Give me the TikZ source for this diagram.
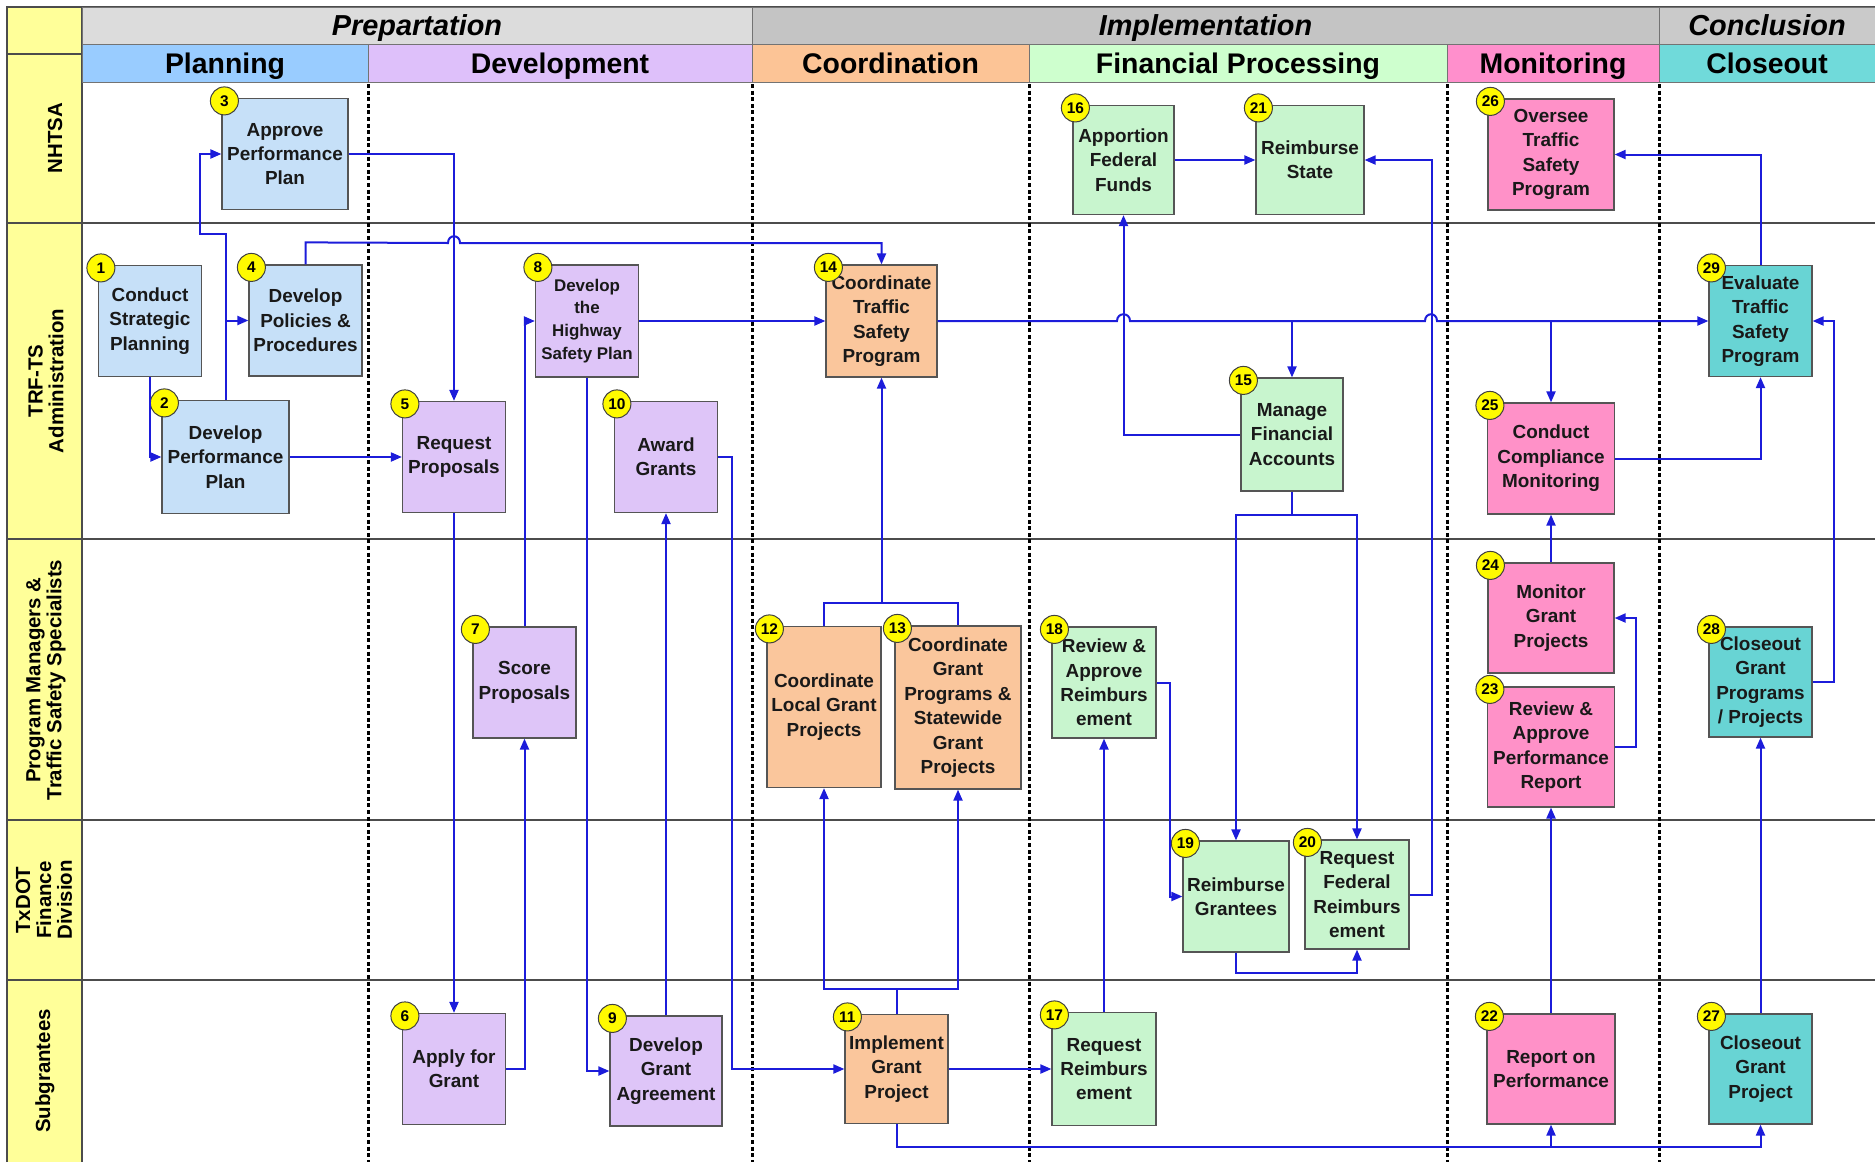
\documentclass[tikz,border=0pt]{standalone}
\usepackage{fontspec}
\setmainfont{Liberation Sans}
\usetikzlibrary{arrows.meta,calc}

\definecolor{flowblue}{RGB}{28,28,218}
\definecolor{boxline}{RGB}{85,85,85}
\definecolor{laneyellow}{RGB}{255,255,153}
\definecolor{badgeyellow}{RGB}{255,250,0}
\definecolor{planfill}{RGB}{198,224,248}
\definecolor{planhead}{RGB}{153,204,255}
\definecolor{devfill}{RGB}{222,197,248}
\definecolor{devhead}{RGB}{222,192,250}
\definecolor{coordfill}{RGB}{250,198,156}
\definecolor{coordhead}{RGB}{252,196,150}
\definecolor{finfill}{RGB}{200,245,206}
\definecolor{finhead}{RGB}{206,255,206}
\definecolor{monfill}{RGB}{255,145,200}
\definecolor{monhead}{RGB}{255,143,204}
\definecolor{closefill}{RGB}{104,212,212}
\definecolor{closehead}{RGB}{112,218,218}
\definecolor{prepgray}{RGB}{220,220,220}
\definecolor{implgray}{RGB}{196,196,196}
\definecolor{conclgray}{RGB}{202,202,202}

\newcommand\boxfont{\fontsize{19}{24.5}\selectfont\bfseries}
\newcommand\smallboxfont{\fontsize{17}{23}\selectfont\bfseries}

\tikzset{
	task/.style={draw=boxline, line width=1.2bp, minimum width=103bp, minimum height=111bp,
		inner sep=1bp, align=center, font=\boxfont, text=black!90},
	plan/.style={task, fill=planfill},
	dev/.style={task, fill=devfill},
	coord/.style={task, fill=coordfill},
	fin/.style={task, fill=finfill},
	mon/.style={task, fill=monfill},
	close/.style={task, fill=closefill},
	badge/.style={circle, draw=black!75, line width=1bp, fill=badgeyellow, minimum size=28bp,
		inner sep=0pt, font=\fontsize{15.5}{15.5}\selectfont\bfseries},
	flow/.style={draw=flowblue, line width=2bp, -{Triangle[length=11bp,width=9bp]}},
	link/.style={draw=flowblue, line width=2bp},
	laneline/.style={draw=black!70, line width=1.8bp},
	phasesep/.style={draw=black, line width=3bp, dash pattern=on 4bp off 2.6bp},
	lanelabel/.style={rotate=90, align=center, font=\fontsize{20.5}{21}\selectfont\bfseries}
}

\begin{document}
\begin{tikzpicture}[x=1bp,y=-1bp]
\useasboundingbox (0,0) rectangle (1875,1162);

% lane labels column
\fill[laneyellow] (7,7) rectangle (82,1162);
\draw[black!70, line width=1.5bp] (7,1162) -- (7,7) -- (1875,7);
\draw[black!70, line width=1.5bp] (82,7) -- (82,1162);
\draw[black!70, line width=1.5bp] (7,54) -- (82,54);

% header rows
\foreach \a/\b/\c/\t in {82/752/prepgray/Prepartation,752/1659/implgray/Implementation,1659/1875/conclgray/Conclusion} {
	\draw[black!55, line width=1bp, fill=\c] (\a,7) rectangle (\b,44);
	\node[anchor=base, font=\fontsize{29}{30}\selectfont\bfseries\itshape] at ({(\a+\b)/2},35) {\t};
}
\foreach \a/\b/\c/\t in {82/368/planhead/Planning,368/752/devhead/Development,752/1029/coordhead/Coordination,
	1029/1447/finhead/Financial Processing,1447/1659/monhead/Monitoring,1659/1875/closehead/Closeout} {
	\draw[black!55, line width=1bp, fill=\c] (\a,44) rectangle (\b,82);
	\node[anchor=base, font=\fontsize{28.5}{30}\selectfont\bfseries] at ({(\a+\b)/2},73) {\t};
}

\foreach \y in {223,539,820,980} {
	\draw[laneline] (7,\y) -- (1875,\y);
}
\foreach \x in {368,752,1029,1447,1659} {
	\draw[phasesep] (\x,84) -- (\x,1162);
}

\node[lanelabel] (lnhtsa) at (55,138) {NHTSA};
\node[lanelabel] (ltrf) at (46,381) {TRF-TS\\Administration};
\node[lanelabel] (lpm) at (46,680) {Program Managers \&\\Traffic Safety Specialists};
\node[lanelabel] (ltx) at (44,900) {TxDOT\\Finance\\Division};
\node[lanelabel] (lsub) at (45,1071) {Subgrantees};

% tasks
\node[plan] (b1) at (150,321) {Conduct\\Strategic\\Planning};
\node[plan, minimum width=127bp, minimum height=113bp] (b2) at (225.5,457) {Develop\\Performance\\Plan};
\node[plan, minimum width=126bp] (b3) at (285,154) {Approve\\Performance\\Plan};
\node[plan, minimum width=113bp] (b4) at (305.5,320.5) {Develop\\Policies \&\\Procedures};
\node[dev] (b5) at (454,457) {Request\\Proposals};
\node[dev] (b6) at (454,1069) {Apply for\\Grant};
\node[dev] (b7) at (524.5,682.5) {Score\\Proposals};
\node[dev, font=\smallboxfont, minimum height=112bp] (b8) at (587,321) {Develop\\the\\Highway\\Safety Plan};
\node[dev, minimum width=112bp, minimum height=110bp] (b9) at (666,1071) {Develop\\Grant\\Agreement};
\node[dev] (b10) at (666,457) {Award\\Grants};
\node[coord, minimum height=109bp] (b11) at (896.5,1069) {Implement\\Grant\\Project};
\node[coord, minimum width=114bp, minimum height=161bp] (b12) at (824,707) {Coordinate\\Local Grant\\Projects};
\node[coord, minimum width=126bp, minimum height=163bp] (b13) at (958,707.5) {Coordinate\\Grant\\Programs \&\\Statewide\\Grant\\Projects};
\node[coord, minimum width=111bp, minimum height=112bp] (b14) at (881.5,321) {Coordinate\\Traffic\\Safety\\Program};
\node[fin, minimum width=102bp, minimum height=113bp] (b15) at (1292,434.5) {Manage\\Financial\\Accounts};
\node[fin, minimum width=101bp, minimum height=109bp] (b16) at (1123.5,160) {Apportion\\Federal\\Funds};
\node[fin, minimum width=104bp, minimum height=113bp] (b17) at (1104,1069) {Request\\Reimburs\\ement};
\node[fin, minimum width=104bp] (b18) at (1104,682.5) {Review \&\\Approve\\Reimburs\\ement};
\node[fin, minimum width=106bp] (b19) at (1236,896.5) {Reimburse\\Grantees};
\node[fin, minimum width=104bp, minimum height=109bp] (b20) at (1357,894.5) {Request\\Federal\\Reimburs\\ement};
\node[fin, minimum width=108bp, minimum height=109bp] (b21) at (1310,160) {Reimburse\\State};
\node[mon, minimum width=128bp, minimum height=110bp] (b22) at (1551,1069) {Report on\\Performance};
\node[mon, minimum width=127bp, minimum height=120bp] (b23) at (1551,747) {Review \&\\Approve\\Performance\\Report};
\node[mon, minimum width=126bp, minimum height=110bp] (b24) at (1551,618) {Monitor\\Grant\\Projects};
\node[mon, minimum width=127bp] (b25) at (1551,458.5) {Conduct\\Compliance\\Monitoring};
\node[mon, minimum width=126bp] (b26) at (1551,154.5) {Oversee\\Traffic\\Safety\\Program};
\node[close, minimum height=110bp] (b27) at (1760.5,1069) {Closeout\\Grant\\Project};
\node[close, minimum height=110bp] (b28) at (1760.5,682) {Closeout\\Grant\\Programs\\/ Projects};
\node[close] (b29) at (1760.5,321) {Evaluate\\Traffic\\Safety\\Program};

\foreach \n in {1,...,29} {
	\node[badge] (n\n) at ([shift={(3,3)}]b\n.north west) {\n};
}

% planning and development
\draw[flow] (b1.south) |- (b2.west);
\draw[flow] (b2.north) |- (200,234) |- (b3.west);
\draw[flow] (b2.north |- b4.west) -- (b4.west);
\draw[flow] (b2.east) -- (b5.west);
\draw[flow] (b3.east) -| (b5.north);
\draw[flow] (b4.north) -- ++(0,-22) -- (448,243) .. controls (448,234) and (460,234) .. (460,243) -| (b14.north);
\draw[flow] (b5.south) -- (b6.north);
\draw[flow] (b6.east) -| (b7.south);
\draw[flow] (b7.north) |- (b8.west);
\draw[flow] (b8.east) -- (b14.west);
\draw[flow] (b8.south) |- (b9.west);
\draw[flow] (b9.north) -- (b10.south);
\draw[flow] (b10.east) -- ++(14,0) |- (b11.west);

% coordination
\draw[flow] (b11.north) -- ++(0,-25) -| (b12.south);
\draw[flow] (b11.north) -- ++(0,-25) -| (b13.south);
\draw[link] (b12.north) -- ++(0,-23) -| (b13.north);
\draw[flow] (b14.south |- 0,603.5) -- (b14.south);
\draw[flow] (b11.east) -- (b17.west);
\draw[flow] (b11.south) -- ++(0,23) -| (b27.south);
\draw[flow] (b22.south |- 0,1147) -- (b22.south);

% financial processing
\draw[flow] (b14.east) -- (1117,321) .. controls (1117,312) and (1130,312) .. (1130,321)
	-- (1425,321) .. controls (1425,312) and (1437,312) .. (1437,321) -- (b29.west);
\draw[flow] (b15.north |- b14.east) -- (b15.north);
\draw[flow] (b25.north |- b14.east) -- (b25.north);
\draw[flow] (b15.west) -| (b16.south);
\draw[flow] (b16.east) -- (b21.west);
\draw[flow] (b15.south) -- ++(0,23) -| (b19.north);
\draw[flow] (b15.south) -- ++(0,23) -| (b20.north);
\draw[flow] (b17.north) -- (b18.south);
\draw[flow] (b18.east) -- ++(13,0) |- (b19.west);
\draw[flow] (b19.south) -- ++(0,20) -| (b20.south);
\draw[flow] (b20.east) -- ++(22,0) |- (b21.east);

% monitoring and closeout
\draw[flow] (b22.north) -- (b23.south);
\draw[flow] (b23.east) -- ++(21,0) |- (b24.east);
\draw[flow] (b24.north) -- (b25.south);
\draw[flow] (b25.east) -| (b29.south);
\draw[flow] (b29.north) |- (b26.east);
\draw[flow] (b27.north) -- (b28.south);
\draw[flow] (b28.east) -- ++(21,0) |- (b29.east);
\end{tikzpicture}
\end{document}
